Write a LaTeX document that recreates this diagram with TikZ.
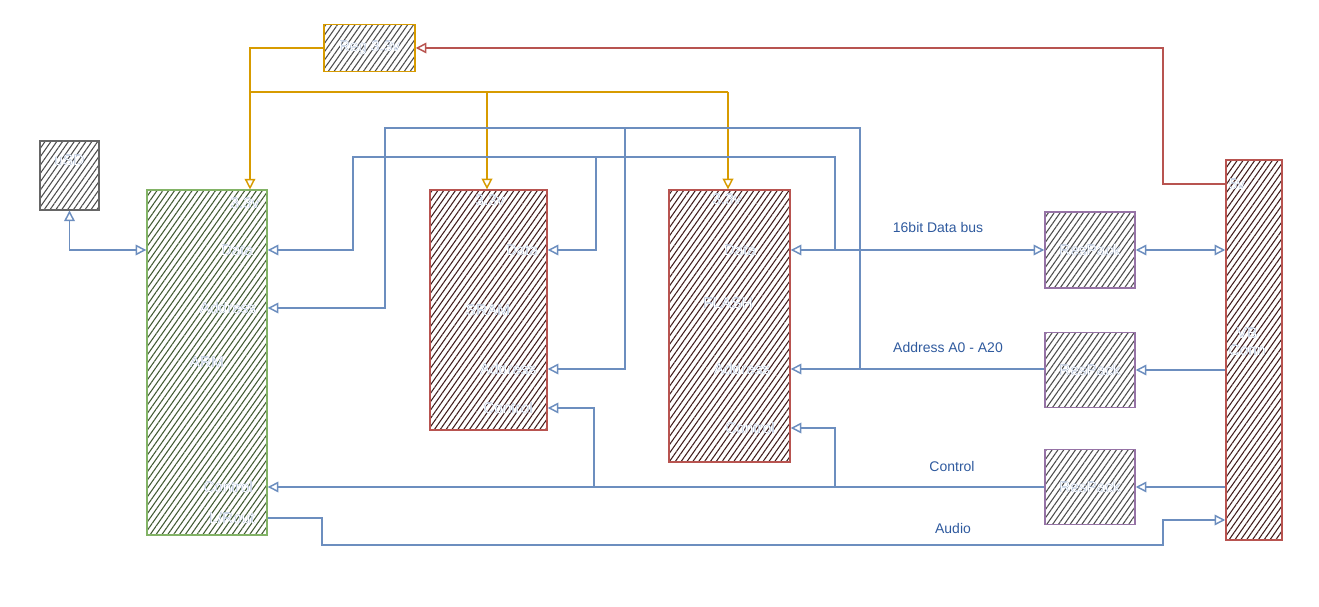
\documentclass[tikz,border=0pt]{standalone}
\usepackage{fontspec}
\setmainfont{Liberation Sans}
\usepackage[outline]{contour}
\contourlength{0.7pt}
\usetikzlibrary{arrows.meta,patterns.meta}
\definecolor{cblue}{HTML}{6C8EBF}
\definecolor{corange}{HTML}{D79B00}
\definecolor{cred}{HTML}{B85450}
\definecolor{cgreen}{HTML}{82B366}
\definecolor{cpurple}{HTML}{9673A6}
\definecolor{cgray}{HTML}{666666}
\definecolor{ctext}{HTML}{2F5A9E}
\newcommand{\lbltext}[1]{\contour{ctext}{\textcolor{white}{#1}}}
\begin{document}
\begin{tikzpicture}[x=0.0264cm,y=-0.0264cm,
  box/.style={draw=#1, line width=1.2pt, inner sep=0pt,
    pattern={Lines[angle=55,distance=3.6pt,line width=0.8pt]}},
  lbl/.style={font=\fontsize{11.5}{13}\selectfont, inner sep=0pt},
  olbl/.style={text=ctext, font=\fontsize{10.5}{12}\selectfont, inner sep=0pt},
  wire/.style={draw=#1, line width=1.1pt},
  tip/.style={-{Triangle[open,length=8pt,width=8pt]}},
  tips/.style={{Triangle[open,length=8pt,width=8pt]}-{Triangle[open,length=8pt,width=8pt]}}]
\useasboundingbox (0,0) rectangle (1319,607);
% boxes
\node[box=cgray, pattern color=black!70, minimum width=44.25pt, minimum height=51.75pt] (usd) at (69.5,175.5) {};
\node[box=cgreen, pattern color=cgreen!50!black, minimum width=90pt, minimum height=258.75pt] (arm) at (207,362.5) {};
\node[box=cred, pattern color=cred!35!black, minimum width=87.75pt, minimum height=180pt] (sram) at (488.5,310) {};
\node[box=cred, pattern color=cred!35!black, minimum width=90.75pt, minimum height=204pt] (flash) at (729.5,326) {};
\node[box=cpurple, pattern color=black!70, minimum width=67.5pt, minimum height=57pt] (rp1) at (1090,250) {};
\node[box=cpurple, pattern color=black!70, minimum width=67.5pt, minimum height=56.25pt] (rp2) at (1090,370) {};
\node[box=cpurple, pattern color=black!70, minimum width=67.5pt, minimum height=56.25pt] (rp3) at (1090,487) {};
\node[box=cred, pattern color=cred!35!black, minimum width=42pt, minimum height=285pt] (vb) at (1254,350) {};
\node[box=corange, pattern color=black!70, minimum width=68.25pt, minimum height=35.25pt] (reg) at (369.5,48) {};
% labels
\node[lbl] (usdl) at (69.5,160) {\lbltext{uSD}};
\node[lbl] (regl) at (369.5,48) {\lbltext{Reg 3.3v}};
\node[lbl] (arm33) at (245,203) {\lbltext{3.3v}};
\node[lbl] (armdata) at (237,250) {\lbltext{Data}};
\node[lbl] (armaddr) at (228,308) {\lbltext{Address}};
\node[lbl] (arml) at (207,362) {\lbltext{ARM}};
\node[lbl] (armctl) at (228,487) {\lbltext{Control}};
\node[lbl] (armlr) at (232,518) {\lbltext{L/Rout}};
\node[lbl] (sram33) at (490,200) {\lbltext{3.3v}};
\node[lbl] (sramdata) at (522,250) {\lbltext{Data}};
\node[lbl] (sraml) at (488,310) {\lbltext{SRAM}};
\node[lbl] (sramaddr) at (508,369) {\lbltext{Address}};
\node[lbl] (sramctl) at (508,408) {\lbltext{Control}};
\node[lbl] (fl33) at (727,199) {\lbltext{3.3v}};
\node[lbl] (fldata) at (740,250) {\lbltext{Data}};
\node[lbl] (fll) at (728,303) {\lbltext{FLASH}};
\node[lbl] (fladdr) at (742,369) {\lbltext{Address}};
\node[lbl] (flctl) at (750,428) {\lbltext{Control}};
\node[lbl] (rp1l) at (1090,250) {\lbltext{ResPack}};
\node[lbl] (rp2l) at (1090,370) {\lbltext{ResPack}};
\node[lbl] (rp3l) at (1090,487) {\lbltext{ResPack}};
\node[lbl] (vb5) at (1237,184) {\lbltext{5v}};
\node[lbl, align=center] (vbl) at (1247,342) {\lbltext{VB}\\\lbltext{Conn}};
\node[olbl] (busl) at (938,228) {16bit Data bus};
\node[olbl] (addrl) at (948,348) {Address A0 - A20};
\node[olbl] (ctll) at (952,467) {Control};
\node[olbl] (audl) at (953,529) {Audio};
% power
\draw[wire=corange, tip] (reg.west) -- (250,48) -- (arm.north -| 250,0);
\draw[wire=corange] (250,92) -- (728,92);
\draw[wire=corange, tip] (487,92) -- (sram.north -| 487,0);
\draw[wire=corange, tip] (728,92) -- (flash.north -| 728,0);
\draw[wire=cred, tip] (vb.west |- vb5) -- (1163,184) -- (1163,48) -- (reg.east);
% uSD
\draw[wire=cblue, tips] (usd.south) -- (69.5,250) -- (arm.west |- 0,250);
% data bus
\draw[wire=cblue, tips] (flash.east |- fldata) -- (rp1.west);
\draw[wire=cblue, tips] (rp1.east) -- (vb.west |- rp1);
\draw[wire=cblue, tip] (835,250) -- (835,157) -- (353,157) -- (353,250) -- (arm.east |- armdata);
\draw[wire=cblue, tip] (596,157) -- (596,250) -- (sram.east |- sramdata);
% address bus
\draw[wire=cblue, tip] (vb.west |- rp2) -- (rp2.east);
\draw[wire=cblue, tip] (rp2.west |- fladdr) -- (flash.east |- fladdr);
\draw[wire=cblue, tip] (860,369) -- (860,128) -- (385,128) -- (385,308) -- (arm.east |- armaddr);
\draw[wire=cblue, tip] (625,128) -- (625,369) -- (sram.east |- sramaddr);
% control
\draw[wire=cblue, tip] (vb.west |- rp3) -- (rp3.east);
\draw[wire=cblue, tip] (rp3.west |- armctl) -- (arm.east |- armctl);
\draw[wire=cblue, tip] (594,487) -- (594,408) -- (sram.east |- sramctl);
\draw[wire=cblue, tip] (835,487) -- (835,428) -- (flash.east |- flctl);
% audio
\draw[wire=cblue, tip] (arm.east |- armlr) -- (322,518) -- (322,545) -- (1163,545) -- (1163,520) -- (vb.west |- 0,520);
\end{tikzpicture}
\end{document}
